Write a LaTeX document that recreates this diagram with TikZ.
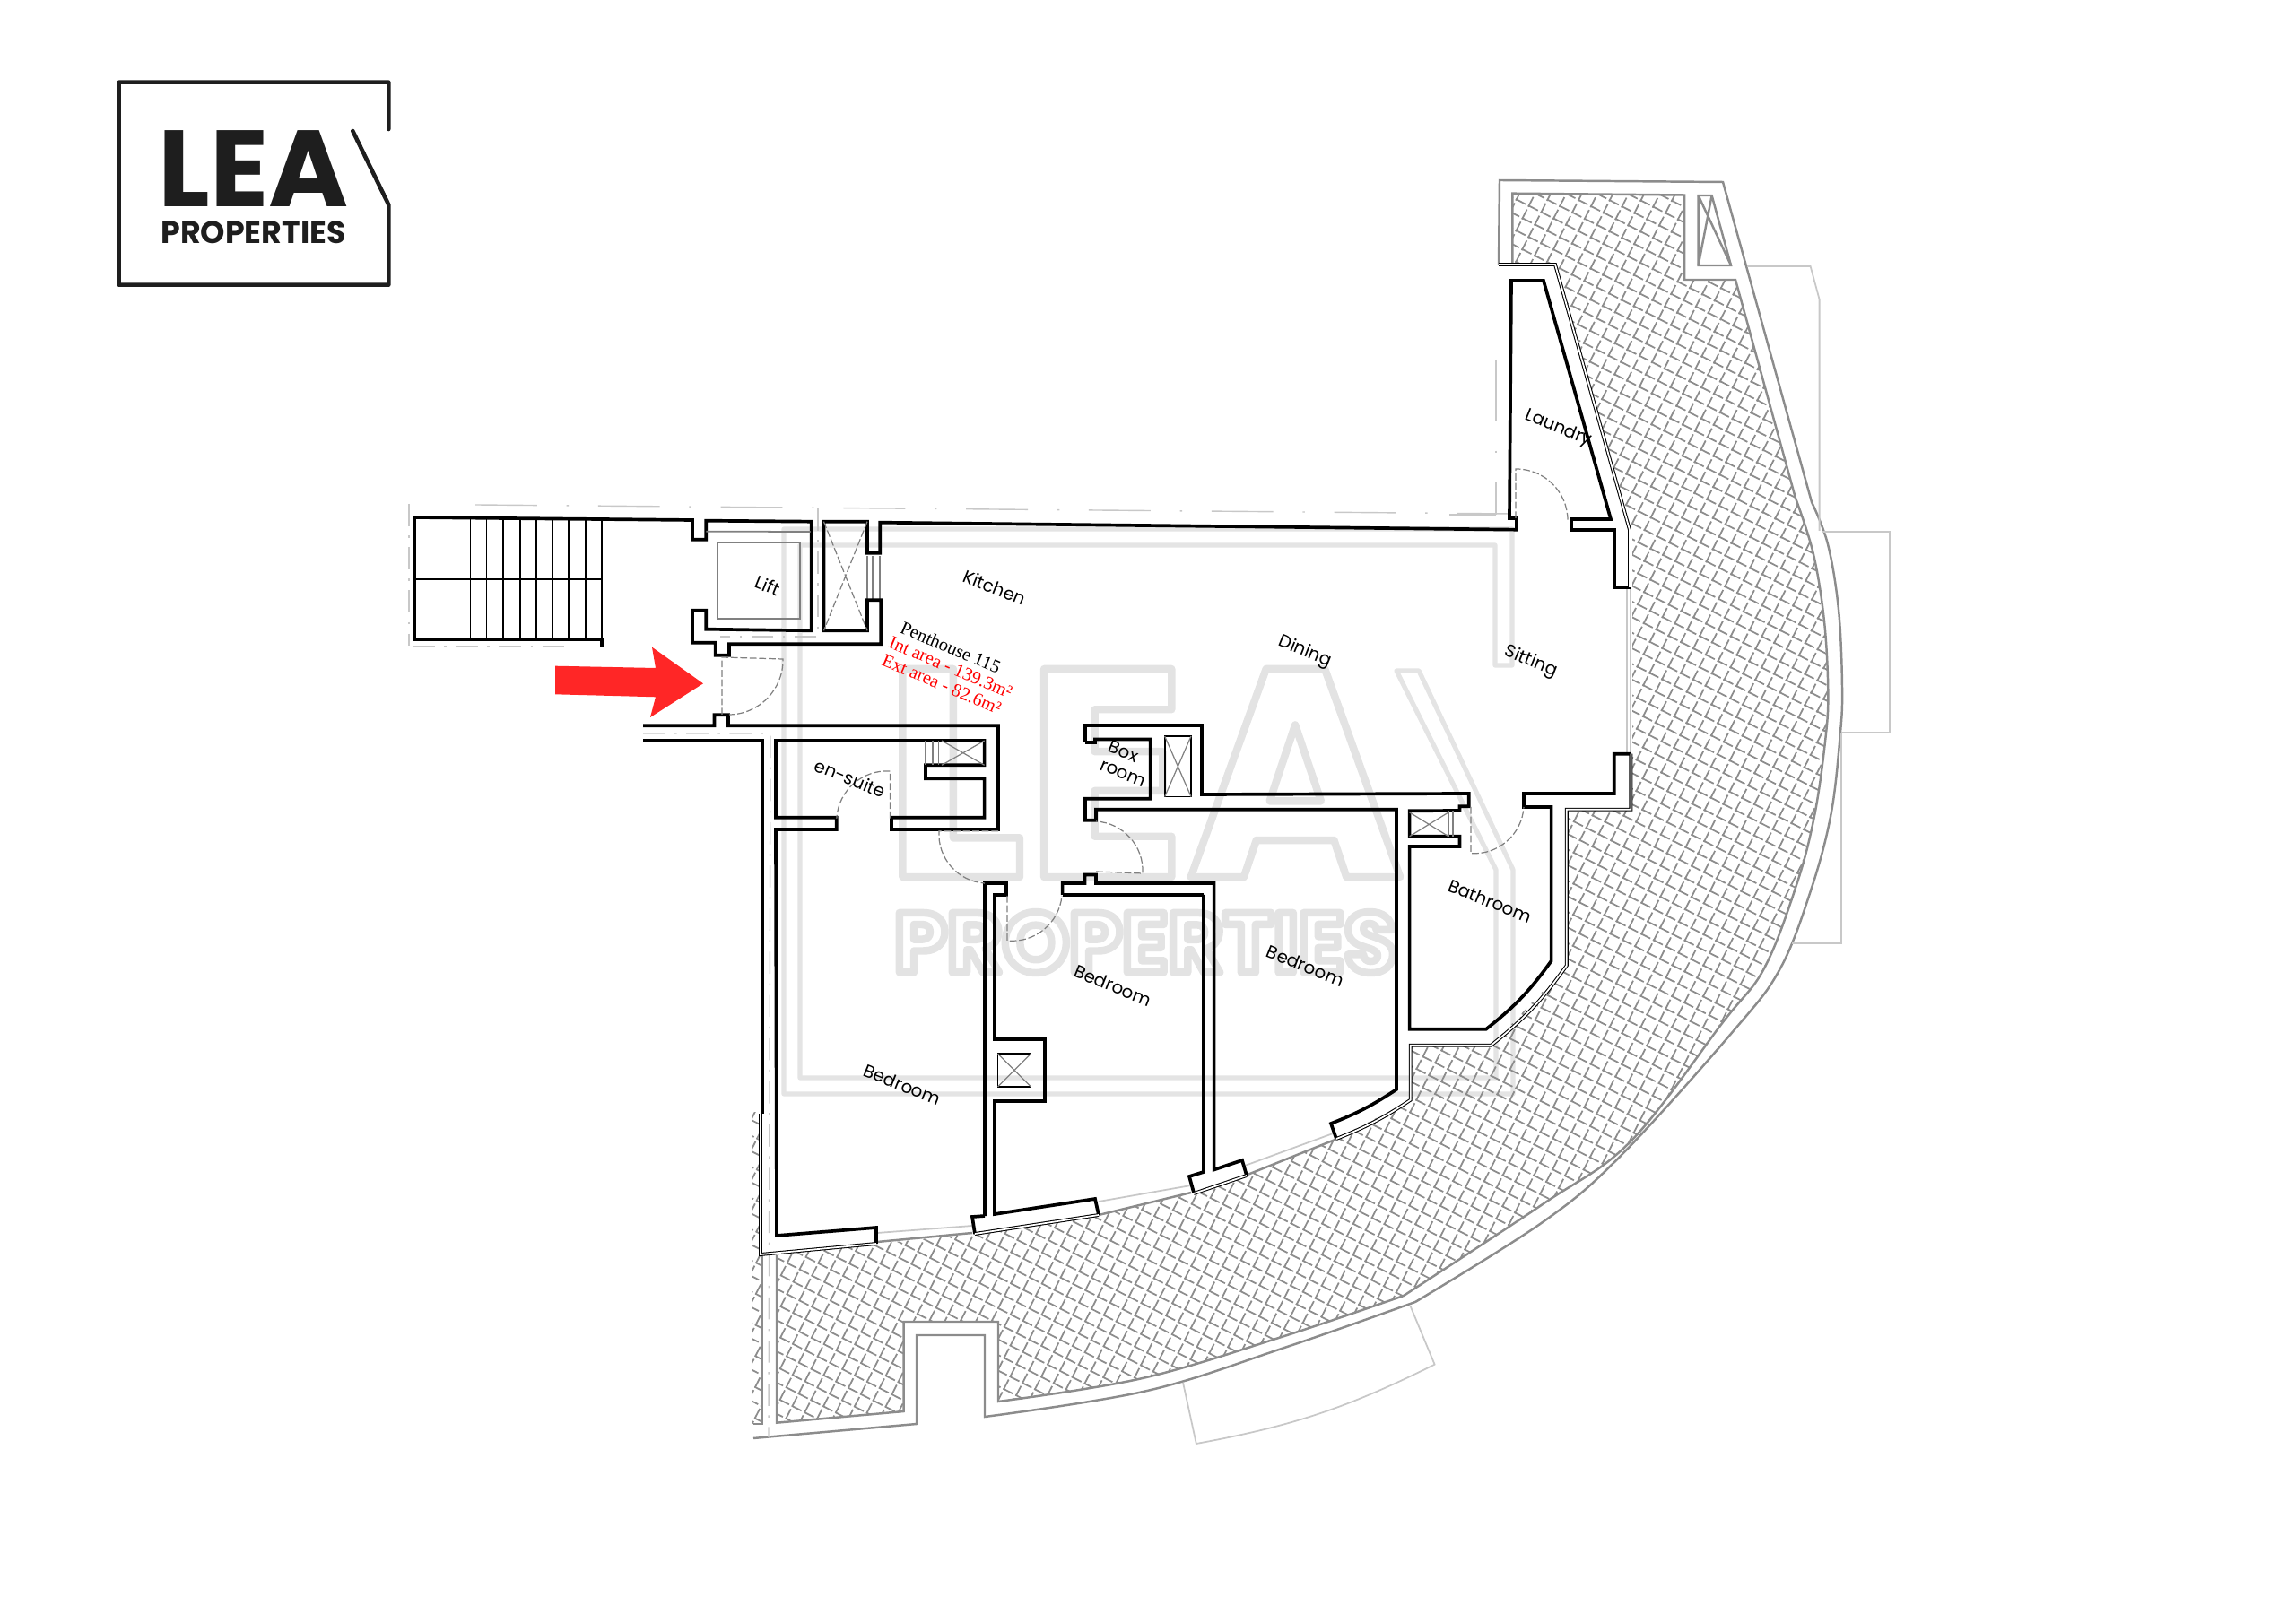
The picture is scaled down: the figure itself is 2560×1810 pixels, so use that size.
\documentclass[tikz,border=0pt]{standalone}
\usepackage{fontspec}
\setmainfont{Open Sans}
\newfontfamily\logofont{Poppins}
\newfontfamily\areafont{Liberation Serif}
\definecolor{logoblack}{HTML}{1E1E1E}
\definecolor{markgray}{HTML}{E4E4E4}
\definecolor{terrace}{HTML}{8C8C8C}
\definecolor{faint}{HTML}{C8C8C8}
\definecolor{arrowred}{HTML}{FF2626}
\newcommand{\outlined}[2]{\special{pdf:code 1 Tr 1 j 1 J #1 w 0.89 G}#2\special{pdf:code 0 Tr}}
\tikzset{
	wall/.style = {draw = black, line width = 1.05pt, line join = miter},
	skin/.style = {draw = black, line width = .3pt, double = white, double distance = .5pt},
	thinline/.style = {draw = black, line width = .5pt},
	terraceline/.style = {draw = terrace, line width = .7pt},
	hatchline/.style = {draw = terrace, line width = .5pt, dash pattern = on 3.5pt off .905pt},
	faintline/.style = {draw = faint, line width = .5pt},
	axisline/.style = {draw = faint, line width = .4pt, dash pattern = on 7pt off 3pt on .7pt off 3pt},
	longaxis/.style = {draw = faint, line width = .4pt, dash pattern = on 19.6pt off 9.3pt on .7pt off 9.3pt},
	doorline/.style = {draw = gray, line width = .35pt, dash pattern = on 2.2pt off .8pt},
	ductline/.style = {draw = gray, line width = .35pt},
	room/.style = {font = \logofont\fontsize{5.6}{7}\selectfont, text = black, rotate = -22, inner sep = 0pt},
	area/.style = {font = \areafont\fontsize{5.8}{7}\selectfont, rotate = -23, inner sep = 0pt},
}
\begin{document}
\begin{tikzpicture}[x = .01cm, y = -.01cm]
	\useasboundingbox (0, 0) rectangle (2560, 1810);

	% watermark
	\draw [draw = markgray, line width = 1.5pt, line join = round] (1687, 1220) -- (1687, 970) -- (1582, 748) -- (1557, 748) -- (1668, 970) -- (1668, 1202) -- (892, 1202) -- (892, 608) -- (1667, 608) -- (1667, 742) -- (1686, 742) -- (1686, 590) -- (874, 590) -- (874, 1220) -- cycle;
	\node (markname) [inner sep = 0pt, font = \logofont\bfseries\fontsize{94}{94}\selectfont] at (1276, 862) {\outlined{2.4}{LEA}};
	\node (markline) [inner sep = 0pt, font = \logofont\bfseries\fontsize{26.9}{27}\selectfont] at (1277, 1051) {\outlined{2.4}{PROPERTIES}};

	% logo
	\draw [draw = logoblack, line width = 1.3pt, line cap = round, line join = round] (433.3, 144) -- (433.3, 91.7) -- (132.7, 91.7) -- (132.7, 317.7) -- (433.3, 317.7) -- (433.3, 228.3) -- (393.3, 146);
	\node (logoname) [inner sep = 0pt, text = logoblack, font = \logofont\bfseries\fontsize{34.4}{34}\selectfont] at (282.5, 188) {LEA};
	\node (logoline) [inner sep = 0pt, text = logoblack, font = \logofont\bfseries\fontsize{9.9}{10}\selectfont] at (282.5, 259.5) {PROPERTIES};

	% hatch
	\begin{scope}
		\clip (1686.4, 215.7) -- (1878, 217.5) -- (1878, 312) -- (1935, 312) -- plot [smooth, tension=.6] coordinates {(2001.8,555) (2021.7,617) (2034,693) (2038.3,773) (2035,827) (2023,910) (2003,987) (1967,1080) (1921,1140) (1818,1273) (1720,1343) (1565,1445)} -- plot [smooth, tension=.6] coordinates {(1565,1445) (1432,1490) (1274,1537) (1113,1563)} -- (1113, 1474) -- (1008, 1474) -- (1008, 1575) -- (866, 1587) -- (866, 1400) -- (978, 1387) -- (1087, 1376) -- (1225, 1355) -- (1330, 1331) -- (1391, 1310) -- (1490, 1270) -- (1573, 1227) -- (1573, 1166) -- (1662.6, 1166) -- (1747, 1077) -- (1747, 903) -- (1820, 903) -- (1820, 591) -- (1734, 295) -- (1686.4, 293) -- cycle
			(838, 1240) rectangle (848, 1588);
		\begin{scope}[shift = {(1450, 900)}, rotate = -27]
			\foreach \k in {-100,...,100} {
				\pgfmathsetmacro{\t}{\k*15.5}
				\draw [hatchline] (-1550, \t) -- (1550, \t);
				\draw [hatchline] (\t, 1550) -- (\t, -1550);
			}
		\end{scope}
	\end{scope}

	% terrace
	\draw [terraceline] (1686.4, 293) -- (1686.4, 215.7) -- (1878, 217.5) -- (1878, 312) -- (1935, 312) -- plot [smooth, tension=.6] coordinates {(2001.8,555) (2021.7,617) (2034,693) (2038.3,773) (2035,827) (2023,910) (2003,987) (1967,1080) (1921,1140) (1818,1273) (1720,1343) (1565,1445)} -- plot [smooth, tension=.6] coordinates {(1565,1445) (1432,1490) (1274,1537) (1113,1563)} -- (1113, 1474) -- (1007.7, 1474) -- (1007.7, 1574) -- (866, 1586.7) -- (866, 1400);
	\draw [terraceline] (1671, 295) -- (1672, 201) -- (1921, 203) -- plot [smooth, tension=.6] coordinates {(2020, 560) (2038, 607) (2050, 680) (2054, 767) (2051.7, 820) (2041.7, 907) (2020, 990) (1985, 1080) (1932.5, 1150) (1806, 1290) (1720, 1363) (1578, 1452)} -- plot [smooth, tension=.6] coordinates {(1578, 1452) (1432, 1503) (1279, 1551) (1098, 1580)} -- (1098, 1489) -- (1022, 1489) -- (1022, 1588) -- (840, 1604);
	\draw [terraceline] (850, 1400) -- (850, 1588) -- (840, 1588);
	\draw [terraceline] (1893.6, 296) -- (1893.6, 218) -- (1908.6, 218) -- (1930, 296) -- cycle;
	\draw [terraceline] (1893.6, 218) -- (1930, 296) (1908.6, 218) -- (1893.6, 296);

	% outside
	\draw [faintline] (1948, 297) -- (2018.6, 297) -- (2028.6, 334) -- (2028.6, 592);
	\draw [faintline] (2032, 593) -- (2107, 593) -- (2107, 816.7) -- (2053, 816.7);
	\draw [faintline] (2053.3, 816.7) -- (2053.3, 1051.7) -- (1998, 1051.7);
	\draw [faintline] (1572.6, 1456.7) -- (1599.6, 1521.7) to [bend left = 8] (1333.8, 1610) -- (1319, 1541.7);

	% axes
	\draw [longaxis] (530, 563) -- (1685, 573);
	\draw [axisline] (456, 562) -- (456, 720);
	\draw [axisline] (460, 721) -- (637, 721);
	\draw [axisline] (912, 567) -- (912, 710) -- (803, 710);
	\draw [axisline] (717, 818) -- (859, 818) -- (857, 1603);
	\draw [longaxis] (1668, 401) -- (1668, 574);
	\draw [faintline] (1668, 574) -- (1616, 574);

	% windows
	\draw [faintline] (978, 1375) -- (1084, 1367) (1225, 1340) -- (1328, 1322) (1388, 1300) -- (1489, 1263);
	\draw [terraceline] (978, 1385) -- (1084, 1375) (1225, 1355) -- (1328, 1330) (1391, 1310) -- (1491, 1270);
	\draw [faintline] (1814, 655) -- (1814, 840) (1818, 655) -- (1818, 840);
	\draw [ductline] (967, 620) -- (967, 669) (973, 620) -- (973, 669) (981, 620) -- (981, 669);

	% stair
	\foreach \x in {524.6, 542.4, 561.3, 579.7, 598, 616.4, 634.3, 653.2, 671}
		\draw [thinline] (\x, 578) -- (\x, 713);
	\draw [thinline] (462, 646) -- (671, 646);

	% walls
	\draw [wall] (671, 721) -- (671, 713) -- (462, 713) -- (462, 577) -- (772, 580) -- (772, 601.7) -- (787.3, 601.7) -- (787.3, 580.7) -- (904.7, 581.7) -- (904.7, 703.3) -- (787.3, 701.7) -- (787.3, 680.7) -- (772, 680.7) -- (772, 716.7) -- (797.6, 716.7) -- (797.6, 730.7) -- (812.9, 730.7) -- (812.9, 718.3) -- (982.2, 718.3) -- (982.2, 669.3) -- (967, 669.3) -- (967, 703.3) -- (918.5, 703.3) -- (918.5, 581.7) -- (967, 581.7) -- (967, 616.7) -- (981.2, 616.7) -- (981.2, 582.7) -- (1691, 590.7) -- (1691, 578) -- (1683, 578) -- (1685, 313) -- (1721, 313) -- (1796, 579) -- (1752, 579) -- (1752, 591) -- (1800, 591) -- (1800, 655) -- (1818, 655);
	\draw [wall] (717, 809.3) -- (796.5, 809.3) -- (796.5, 797.3) -- (812, 797.3) -- (812, 809.3) -- (1113, 809.3) -- (1113, 925) -- (994, 925) -- (994, 911.7) -- (1097.6, 911.7) -- (1097.6, 868.3) -- (1032, 868.3) -- (1032, 853.3) -- (1097.6, 853.3) -- (1097.6, 826) -- (865, 826) -- (865, 911.7) -- (932.8, 911.7) -- (932.8, 925) -- (865, 925) -- (866, 1378) -- (977, 1369) -- (977, 1387);
	\draw [wall] (717, 826) -- (850, 826) -- (850, 1242);
	\draw [wall] (1098, 1356) -- (1098, 985) -- (1122, 985) -- (1122, 998) -- (1109, 998) -- (1109, 1159) -- (1165, 1159) -- (1165, 1228) -- (1109, 1228) -- (1109, 1354) -- (1221, 1337) -- (1225, 1355);
	\draw [wall] (1098, 1356) -- (1084, 1357) -- (1087, 1376);
	\draw [wall] (1184.6, 998) -- (1184.6, 985) -- (1209.5, 985) -- (1209.5, 975.5) -- (1222, 975.5) -- (1222, 985) -- (1353.6, 985) -- (1353.6, 1304.5) -- (1385, 1294) -- (1390, 1311);
	\draw [wall] (1342, 998) -- (1184.6, 998);
	\draw [wall] (1342, 998) -- (1342, 1307) -- (1326, 1312) -- (1331, 1330);
	\draw [wall] (1210, 828) -- (1210, 809) -- (1340, 809) -- (1340, 886) -- (1637.8, 885) -- (1637.8, 899.3) -- (1627.4, 899.3) -- (1627.4, 904) -- (1571.6, 904.3) -- (1571.6, 932.7) -- (1627.4, 932.7) -- (1627.4, 944) -- (1571.6, 944) -- (1571.6, 1147.7) -- (1657, 1147.7) to [bend right = 8] (1729.6, 1071.7) -- (1729.6, 900) -- (1699, 900) -- (1699, 885) -- (1799.7, 885) -- (1799.7, 840.7) -- (1818.4, 840.7);
	\draw [wall] (1490, 1270) -- (1484, 1253) to [bend right = 6] (1557, 1215) -- (1557, 902.8) -- (1222, 902.8) -- (1222, 914.8) -- (1210, 914.8) -- (1210, 890.7) -- (1282.8, 890.7) -- (1282.8, 824.6) -- (1221, 824.6) -- (1221, 828) -- (1210, 828);

	% outer skin
	\draw [skin] (1671, 295) -- (1734, 295) -- (1817, 591) -- (1817, 655);
	\draw [skin] (1818.4, 840.7) -- (1818.4, 902.7) -- (1746.8, 902.7) -- (1746.8, 1076.7) to [bend left = 8] (1662.6, 1165.7) -- (1572.7, 1165.7) -- (1572.7, 1226.7) to [bend left = 6] (1490, 1270);
	\draw [skin] (1390, 1311) -- (1331, 1331);
	\draw [skin] (1225, 1355) -- (1087, 1376);
	\draw [skin] (977, 1387) -- (848, 1399) -- (848, 1242);

	% ducts
	\draw [thinline] (1298.7, 821) rectangle (1328, 888.5);
	\draw [ductline] (1298.7, 821) -- (1328, 888.5) (1328, 821) -- (1298.7, 888.5);
	\draw [thinline] (1112.5, 1175) rectangle (1149.5, 1212);
	\draw [ductline] (1112.5, 1175) -- (1149.5, 1212) (1149.5, 1175) -- (1112.5, 1212);
	\draw [ductline] (1050, 826) -- (1097.6, 853.3) (1097.6, 826) -- (1050, 853.3);
	\draw [ductline] (1032, 826) -- (1032, 853.3) (1040, 826) -- (1040, 853.3) (1046.5, 826) -- (1046.5, 853.3);
	\draw [ductline] (1571.6, 906) -- (1615, 932.7) (1615, 906) -- (1571.6, 932.7);
	\draw [ductline] (1615, 904) -- (1615, 932.7) (1620, 904) -- (1620, 932.7);
	\draw [doorline] (918.5, 581.7) -- (967, 703.3) (967, 581.7) -- (918.5, 703.3);

	% lift
	\draw [draw = gray, line width = .5pt] (800, 605) rectangle (892, 690);
	\draw [draw = gray, line width = .5pt] (787.3, 592.7) -- (903.7, 593);

	% doors
	\draw [doorline] (805, 797) -- (805, 733) -- (873, 735) to [bend left = 45] (813, 797);
	\draw [doorline] (1690, 578) -- (1690, 523) to [bend left = 45] (1748, 580);
	\draw [doorline] (992.4, 912.7) -- (992.4, 860) to [bend right = 45] (932.8, 912.7);
	\draw [doorline] (1113, 926.7) -- (1047, 926.7) to [bend right = 45] (1098, 985);
	\draw [doorline] (1123, 999) -- (1123, 1049) to [bend right = 45] (1184, 999);
	\draw [doorline] (1222, 972) -- (1274, 974) to [bend right = 45] (1222, 916);
	\draw [doorline] (1640, 900) -- (1640, 951.7) to [bend right = 45] (1699, 900);

	% arrow
	\fill [arrowred] (619, 742.7) -- (731, 745) -- (727, 721.7) -- (784, 762.3) -- (725, 800) -- (731, 777.3) -- (619, 774.3) -- cycle;

	% rooms
	\node (lift) [room] at (856, 653) {Lift};
	\node (kitchen) [room] at (1109, 655) {Kitchen};
	\node (dining) [room] at (1455, 727) {Dining};
	\node (sitting) [room] at (1707, 738) {Sitting};
	\node (laundry) [room] at (1737.5, 478) {Laundry};
	\node (box) [room] at (1253, 838) {Box};
	\node (boxroom) [room] at (1251.7, 863) {room};
	\node (ensuite) [room] at (948, 868) {en-suite};
	\node (bedroomA) [room] at (1006, 1209.5) {Bedroom};
	\node (bedroomB) [room] at (1241, 1099) {Bedroom};
	\node (bedroomC) [room] at (1455.6, 1077) {Bedroom};
	\node (bathroom) [room] at (1661.5, 1005) {Bathroom};

	% areas
	\node (unit) [area] at (1060, 722) {Penthouse 115};
	\node (intarea) [area, text = red] at (1060, 744) {Int area - 139.3m²};
	\node (extarea) [area, text = red] at (1050, 763) {Ext area - 82.6m²};
\end{tikzpicture}
\end{document}
